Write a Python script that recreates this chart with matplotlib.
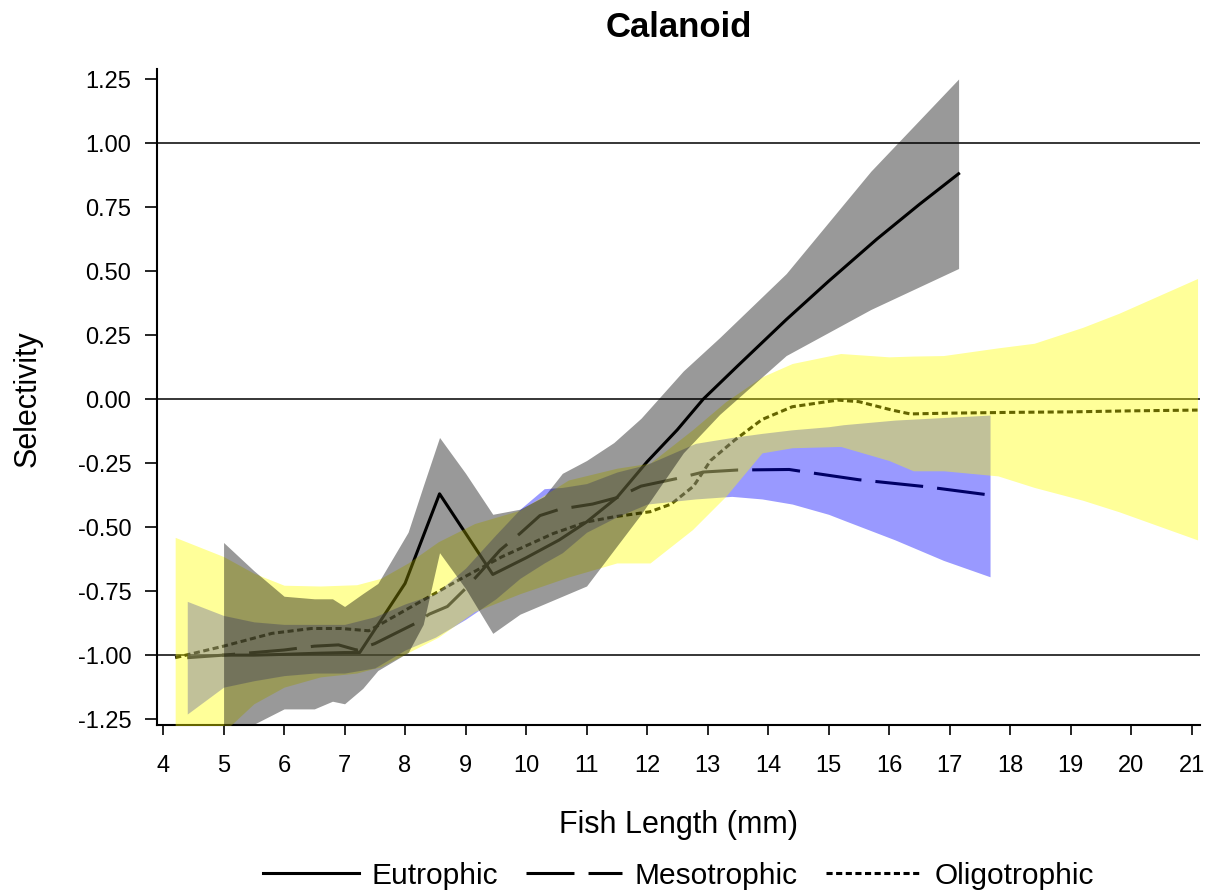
import matplotlib
matplotlib.use('Agg')
import matplotlib.pyplot as plt

plt.rcParams['font.family'] = ['Liberation Sans', 'DejaVu Sans']

# mean selectivity curves by lake type
eu_x = [5.0, 5.5, 6.0, 6.5, 7.0, 7.25, 8.0, 8.57, 9.45, 10.0, 10.55, 11.0, 11.5,
        12.0, 12.5, 12.93, 13.5, 14.3, 15.0, 15.8, 16.5, 17.15]
eu_y = [-1.0, -1.0, -0.997, -0.993, -0.99, -0.99, -0.72, -0.37, -0.685, -0.62, -0.55,
        -0.48, -0.385, -0.245, -0.12, 0.0, 0.13, 0.31, 0.46, 0.625, 0.76, 0.88]

me_x = [4.4, 5.0, 5.5, 6.0, 6.5, 6.9, 7.2, 7.5, 8.17, 8.4, 8.7, 9.0, 9.25, 9.57,
        9.9, 10.23, 10.56, 11.1, 11.5, 11.9, 12.5, 12.93, 13.5, 14.35, 14.6, 15.5,
        16.6, 17.67]
me_y = [-1.01, -1.0, -0.99, -0.98, -0.965, -0.96, -0.98, -0.955, -0.876, -0.84,
        -0.81, -0.74, -0.675, -0.59, -0.525, -0.455, -0.43, -0.41, -0.385, -0.34,
        -0.31, -0.285, -0.277, -0.275, -0.284, -0.315, -0.342, -0.375]

ol_x = [4.2, 5.0, 5.8, 6.45, 6.95, 7.4, 7.85, 8.3, 8.9, 9.6, 10.45, 11.0, 11.45,
        12.05, 12.4, 12.77, 13.05, 13.45, 13.9, 14.4, 15.15, 15.5, 16.05, 16.35,
        17.0, 18.0, 19.0, 20.0, 21.1]
ol_y = [-1.01, -0.965, -0.915, -0.896, -0.896, -0.905, -0.845, -0.785, -0.705,
        -0.616, -0.525, -0.48, -0.46, -0.44, -0.41, -0.34, -0.24, -0.16, -0.08,
        -0.03, -0.004, -0.01, -0.043, -0.058, -0.055, -0.052, -0.05, -0.046, -0.043]

# confidence bands
eu_band_x = [5.0, 5.5, 6.0, 6.5, 6.8, 7.0, 7.3, 7.55, 8.05, 8.3, 8.57, 9.0, 9.45,
             9.9, 10.3, 10.6, 11.0, 11.45, 11.9, 12.6, 13.2, 14.3, 15.7, 17.15]
eu_upper = [-0.56, -0.67, -0.77, -0.78, -0.78, -0.81, -0.76, -0.72, -0.52, -0.34,
            -0.15, -0.29, -0.45, -0.43, -0.38, -0.29, -0.24, -0.17, -0.075, 0.11,
            0.24, 0.49, 0.89, 1.25]
eu_lower = [-1.40, -1.27, -1.21, -1.21, -1.18, -1.19, -1.13, -1.06, -0.99, -0.88,
            -0.60, -0.74, -0.915, -0.84, -0.80, -0.77, -0.73, -0.59, -0.45, -0.21,
            -0.06, 0.17, 0.35, 0.51]

me_band_x = [4.4, 5.0, 5.5, 6.0, 6.5, 7.0, 7.5, 8.0, 8.5, 9.0, 9.5, 9.9, 10.3,
             10.6, 11.0, 11.5, 12.0, 12.8, 13.4, 13.9, 14.4, 15.0, 15.25, 16.1,
             16.9, 17.67]
me_upper = [-0.79, -0.845, -0.87, -0.88, -0.88, -0.88, -0.85, -0.80, -0.76, -0.66,
            -0.53, -0.43, -0.35, -0.345, -0.33, -0.285, -0.255, -0.173, -0.15,
            -0.134, -0.12, -0.108, -0.10, -0.082, -0.072, -0.0625]
me_lower = [-1.23, -1.125, -1.10, -1.08, -1.07, -1.07, -1.05, -0.98, -0.93, -0.86,
            -0.78, -0.70, -0.64, -0.60, -0.52, -0.46, -0.41, -0.39, -0.38, -0.39,
            -0.41, -0.45, -0.473, -0.55, -0.63, -0.694]

ol_band_x = [4.2, 5.0, 5.5, 6.0, 6.6, 7.2, 7.6, 8.05, 8.55, 9.15, 9.9, 10.7, 11.5,
             12.05, 12.75, 13.3, 13.9, 14.4, 15.2, 16.0, 16.4, 16.9, 17.8, 18.4,
             19.2, 19.8, 21.1]
ol_upper = [-0.54, -0.615, -0.68, -0.727, -0.73, -0.725, -0.70, -0.64, -0.557,
            -0.486, -0.434, -0.316, -0.27, -0.25, -0.12, -0.01, 0.087, 0.139, 0.178,
            0.165, 0.168, 0.17, 0.20, 0.218, 0.28, 0.335, 0.471]
ol_lower = [-1.5, -1.3, -1.19, -1.125, -1.085, -1.07, -1.045, -0.99, -0.93, -0.83,
            -0.76, -0.695, -0.64, -0.64, -0.51, -0.38, -0.21, -0.19, -0.185, -0.24,
            -0.28, -0.28, -0.30, -0.345, -0.395, -0.44, -0.55]

ref_levels = [-1.0, 0.0, 1.0]
x_ticks = list(range(4, 22))
y_ticks = [-1.25, -1.0, -0.75, -0.5, -0.25, 0.0, 0.25, 0.5, 0.75, 1.0, 1.25]

fig = plt.figure(figsize=(12.06, 8.94), dpi=100)
ax = fig.add_axes([0.1302, 0.189, 0.8648, 0.7338])

for v in ref_levels:
    ax.axhline(v, color='black', lw=1.1, zorder=1)

# lines go underneath the translucent bands
ax.plot(eu_x, eu_y, color='black', lw=2.2, zorder=2, label='Eutrophic')
ax.plot(me_x, me_y, color='black', lw=2.2, ls=(0, (15.7, 4.6)), zorder=2,
        label='Mesotrophic')
ax.plot(ol_x, ol_y, color='black', lw=2.2, ls=(0, (2.0, 1.15)), zorder=2,
        label='Oligotrophic')

ax.fill_between(me_band_x, me_lower, me_upper, color='blue', alpha=0.4, lw=0, zorder=3)
ax.fill_between(ol_band_x, ol_lower, ol_upper, color='yellow', alpha=0.4, lw=0, zorder=3.1)
ax.fill_between(eu_band_x, eu_lower, eu_upper, color='black', alpha=0.4, lw=0, zorder=3.2)

ax.set_xlim(3.9, 21.14)
ax.set_ylim(-1.273, 1.289)
ax.set_xticks(x_ticks)
ax.set_xticklabels([str(t) for t in x_ticks])
ax.set_yticks(y_ticks)
ax.set_yticklabels(['%.2f' % t for t in y_ticks])

for side in ['top', 'right']:
    ax.spines[side].set_visible(False)
for side in ['left', 'bottom']:
    ax.spines[side].set_linewidth(1.5)

ax.tick_params(axis='y', direction='out', length=8.5, width=1.2, pad=10, labelsize=17)
ax.tick_params(axis='x', direction='out', length=7.5, width=1.2, pad=14, labelsize=17)

ax.set_xlabel('Fish Length (mm)', fontsize=22, va='center')
ax.xaxis.set_label_coords(0.5, -0.152)
ax.set_ylabel('Selectivity', fontsize=22, va='center')
ax.yaxis.set_label_coords(-0.124, 0.498)

ax.text(0.5, 1.064, 'Calanoid', transform=ax.transAxes, ha='center', va='center',
        fontsize=25, fontweight='bold')

ax.legend(loc='center', bbox_to_anchor=(0.5, -0.230), ncol=3, frameon=False,
          fontsize=21.5, handlelength=3.2, handletextpad=0.43, columnspacing=0.94)

fig.savefig('out.png', dpi=100)
